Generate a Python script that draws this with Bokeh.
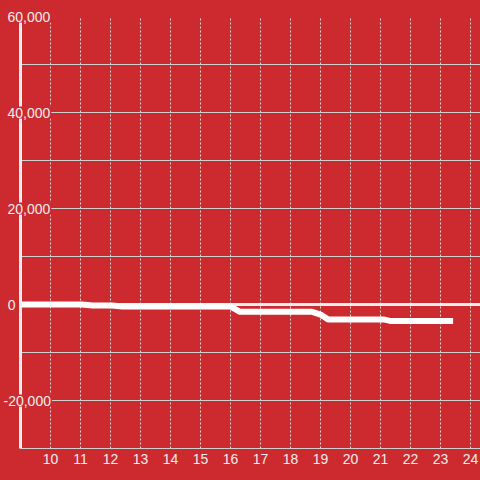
from bokeh.plotting import figure
from bokeh.models import Range1d, FixedTicker, Span, ColumnDataSource
from bokeh.core.properties import value
from bokeh.embed import file_html
from bokeh.resources import INLINE

# data
hours = [9, 11.05, 11.4, 12.05, 12.4, 16.0, 16.3, 18.7, 19.0, 19.25, 21.1, 21.35, 23.42]
balance = [0, 0, -200, -200, -400, -400, -1500, -1500, -2100, -3100, -3100, -3450, -3450]
x_ticks = list(range(10, 25))
y_grid_ticks = list(range(-30000, 60001, 10000))
y_label_values = [60000, 40000, 20000, 0, -20000]
y_label_texts = ["60,000", "40,000", "20,000", "0", "-20,000"]

BG = "#cc2a2f"
FONT = "Liberation Sans"

p = figure(width=480, height=480, output_backend="svg", toolbar_location=None,
           x_range=Range1d(9, 24.3333), y_range=Range1d(-30000, 60000),
           min_border_left=20, min_border_right=0, min_border_top=16, min_border_bottom=32)
p.background_fill_color = BG
p.border_fill_color = BG
p.outline_line_color = None

ya = p.yaxis[0]
ya.ticker = FixedTicker(ticks=[])
ya.axis_line_color = "#eeeeee"
ya.axis_line_width = 3
ya.major_tick_line_color = None
ya.minor_tick_line_color = None
ya.major_tick_out = 0
ya.major_label_text_font_size = "0px"
ya.major_label_standoff = 0

p.ygrid.ticker = FixedTicker(ticks=y_grid_ticks)
p.ygrid.grid_line_color = "#cfcfcf"
p.ygrid.grid_line_width = 1

p.xgrid.ticker = FixedTicker(ticks=x_ticks)
p.xgrid.grid_line_color = "#dddddd"
p.xgrid.grid_line_dash = "2 2"
p.xgrid.grid_line_width = 1

xa = p.xaxis[0]
xa.ticker = FixedTicker(ticks=x_ticks)
xa.axis_line_color = "#cfcfcf"
xa.axis_line_width = 1
xa.major_tick_line_color = None
xa.minor_tick_line_color = None
xa.major_tick_out = 0
xa.major_tick_in = 0
xa.major_label_text_color = "#eeeeee"
xa.major_label_text_font = FONT
xa.major_label_text_font_size = "14px"
xa.major_label_standoff = 5

zero = Span(location=0, dimension="width", line_color="#eeeeee", line_width=3, level="underlay")
p.add_layout(zero)

p.line(hours, balance, line_color="white", line_width=6, line_join="round")

offsets = []
aligns = []
for t in y_label_texts:
    if len(t) == 1:
        offsets.append(-4); aligns.append("right")
    elif t.startswith("-"):
        offsets.append(-18); aligns.append("left")
    else:
        offsets.append(-14); aligns.append("left")

src = ColumnDataSource(dict(x=[p.x_range.start] * len(y_label_values), y=y_label_values,
                            text=y_label_texts, xo=offsets, al=aligns))
r = p.text(x="x", y="y", text="text", source=src, x_offset="xo", text_align="al",
           text_baseline="middle", text_color="#eeeeee", text_font=value(FONT),
           text_font_size="14px", background_fill_color=BG, padding=1)
r.level = "overlay"

html = file_html(p, INLINE)
html = html.replace("<head>", "<head><style>html,body{margin:0;padding:0;background:%s;}</style>" % BG, 1)
open("out.html", "w").write(html)
